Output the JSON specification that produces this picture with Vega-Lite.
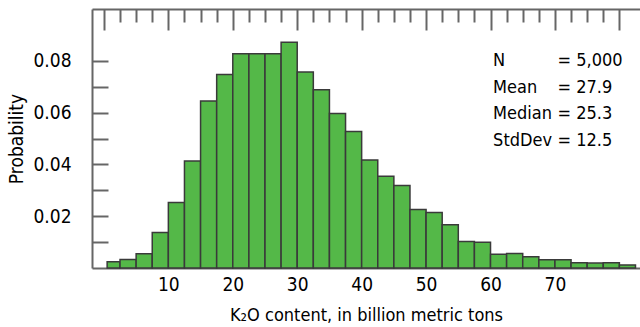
{
  "$schema": "https://vega.github.io/schema/vega-lite/v6.json",
  "width": 548,
  "height": 259,
  "autosize": {"type": "none"},
  "padding": {"left": 92, "top": 9, "right": 0, "bottom": 59},
  "background": "white",
  "config": {
    "view": {"stroke": null},
    "font": "DejaVu Sans Condensed, Roboto, sans-serif",
    "axis": {
      "labelFont": "DejaVu Sans Condensed, Roboto, sans-serif",
      "titleFont": "DejaVu Sans Condensed, Roboto, sans-serif",
      "labelFontSize": 19,
      "titleFontSize": 18,
      "titleFontWeight": "normal",
      "labelColor": "#000000",
      "titleColor": "#000000",
      "domainColor": "#666666",
      "domainWidth": 2,
      "tickColor": "#666666",
      "tickWidth": 2,
      "grid": false
    }
  },
  "datasets": {
    "bins": [
      {"start": 0.5, "end": 2.5, "probability": 0.0024},
      {"start": 2.5, "end": 5.0, "probability": 0.0033},
      {"start": 5.0, "end": 7.5, "probability": 0.0055},
      {"start": 7.5, "end": 10.0, "probability": 0.0137},
      {"start": 10.0, "end": 12.5, "probability": 0.0253},
      {"start": 12.5, "end": 15.0, "probability": 0.0413},
      {"start": 15.0, "end": 17.5, "probability": 0.0645},
      {"start": 17.5, "end": 20.0, "probability": 0.0747},
      {"start": 20.0, "end": 22.5, "probability": 0.0827},
      {"start": 22.5, "end": 25.0, "probability": 0.0827},
      {"start": 25.0, "end": 27.5, "probability": 0.0827},
      {"start": 27.5, "end": 30.0, "probability": 0.0872},
      {"start": 30.0, "end": 32.5, "probability": 0.0757},
      {"start": 32.5, "end": 35.0, "probability": 0.0688},
      {"start": 35.0, "end": 37.5, "probability": 0.0597},
      {"start": 37.5, "end": 40.0, "probability": 0.0527},
      {"start": 40.0, "end": 42.5, "probability": 0.0417},
      {"start": 42.5, "end": 45.0, "probability": 0.0354},
      {"start": 45.0, "end": 47.5, "probability": 0.0319},
      {"start": 47.5, "end": 50.0, "probability": 0.0226},
      {"start": 50.0, "end": 52.5, "probability": 0.0214},
      {"start": 52.5, "end": 55.0, "probability": 0.0167},
      {"start": 55.0, "end": 57.5, "probability": 0.0102},
      {"start": 57.5, "end": 60.0, "probability": 0.0099},
      {"start": 60.0, "end": 62.5, "probability": 0.0053},
      {"start": 62.5, "end": 65.0, "probability": 0.0056},
      {"start": 65.0, "end": 67.5, "probability": 0.0043},
      {"start": 67.5, "end": 70.0, "probability": 0.0032},
      {"start": 70.0, "end": 72.5, "probability": 0.0032},
      {"start": 72.5, "end": 75.0, "probability": 0.0020},
      {"start": 75.0, "end": 77.5, "probability": 0.0019},
      {"start": 77.5, "end": 80.0, "probability": 0.0020},
      {"start": 80.0, "end": 82.5, "probability": 0.0012}
    ],
    "stats": [
      {"names": ["N", "Mean", "Median", "StdDev"], "values": ["= 5,000", "= 27.9", "= 25.3", "= 12.5"]}
    ]
  },
  "layer": [
    {
      "data": {"name": "bins"},
      "mark": {"type": "bar", "fill": "#54b848", "stroke": "#3a3a3a", "strokeWidth": 1.5},
      "encoding": {
        "x": {
          "field": "start", "type": "quantitative",
          "scale": {"domain": [-1.85, 83.2], "nice": false, "zero": false},
          "axis": {
            "orient": "bottom",
            "values": [10, 20, 30, 40, 50, 60, 70],
            "ticks": false,
            "labelPadding": 7,
            "title": "K₂O content, in billion metric tons",
            "titlePadding": 12
          }
        },
        "x2": {"field": "end"},
        "y": {
          "field": "probability", "type": "quantitative",
          "scale": {"domain": [0, 0.1], "nice": false},
          "axis": {
            "orient": "left",
            "values": [0.01, 0.02, 0.03, 0.04, 0.05, 0.06, 0.07, 0.08],
            "tickSize": -16,
            "labelPadding": 37,
            "labelExpr": "round(datum.value * 100) % 2 == 0 ? format(datum.value, '.2f') : ''",
            "title": "Probability",
            "titleFontSize": 19,
            "titlePadding": 6
          }
        },
        "y2": {"datum": 0}
      }
    },
    {
      "data": {"name": "bins"},
      "mark": {"type": "point", "opacity": 0},
      "encoding": {
        "x": {
          "field": "start", "type": "quantitative",
          "axis": {
            "orient": "top",
            "values": [0, 2.5, 5, 7.5, 10, 12.5, 15, 17.5, 20, 22.5, 25, 27.5, 30, 32.5, 35, 37.5, 40, 42.5, 45, 47.5, 50, 52.5, 55, 57.5, 60, 62.5, 65, 67.5, 70, 72.5, 75, 77.5, 80],
            "labels": false,
            "title": null,
            "tickSize": {"condition": {"test": "datum.value % 10 === 0", "value": -21}, "value": -13}
          }
        }
      }
    },
    {
      "data": {"name": "stats"},
      "mark": {"type": "text", "align": "left", "baseline": "alphabetic", "fontSize": 18, "lineHeight": 26.5, "color": "#000000"},
      "encoding": {
        "x": {"datum": 60.4, "type": "quantitative", "axis": null},
        "y": {"datum": 0.0778, "type": "quantitative", "axis": null},
        "text": {"field": "names"}
      }
    },
    {
      "data": {"name": "stats"},
      "mark": {"type": "text", "align": "left", "baseline": "alphabetic", "fontSize": 18, "lineHeight": 26.5, "color": "#000000"},
      "encoding": {
        "x": {"datum": 70.4, "type": "quantitative", "axis": null},
        "y": {"datum": 0.0778, "type": "quantitative", "axis": null},
        "text": {"field": "values"}
      }
    }
  ],
  "resolve": {"axis": {"x": "independent", "y": "independent"}}
}
